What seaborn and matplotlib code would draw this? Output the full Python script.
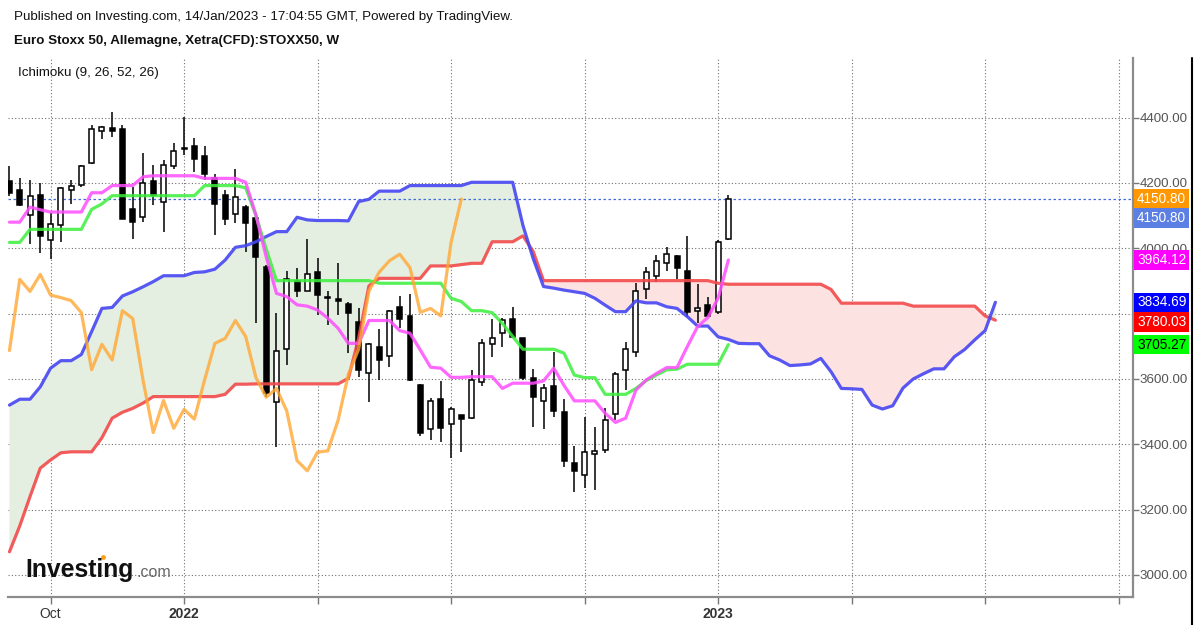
import numpy as np
import pandas as pd
import matplotlib
matplotlib.use('Agg')
import matplotlib.pyplot as plt
import matplotlib.dates as mdates
import matplotlib.transforms as mtransforms
from matplotlib.lines import Line2D
import seaborn as sns

# Euro Stoxx 50 weekly candles, Sep 2021 -> Jan 2023
first_week = '2021-09-06'
opens = [4207, 4177, 4102, 4164, 4026, 4071, 4178, 4193, 4260, 4359,
         4367, 4364, 4120, 4095, 4207, 4141, 4252, 4306, 4314, 4284,
         4214, 4164, 4104, 4127, 4092, 3944, 3529, 3693, 3901, 3869,
         3928, 3852, 3844, 3829, 3773, 3617, 3697, 3670, 3821, 3794,
         3582, 3446, 3538, 3461, 3489, 3480, 3592, 3706, 3740, 3783,
         3724, 3602, 3533, 3580, 3498, 3342, 3306, 3369, 3383, 3492,
         3626, 3682, 3874, 3915, 3954, 3975, 3931, 3808, 3826, 3804,
         4028]
highs = [4253, 4215, 4208, 4200, 4107, 4187, 4209, 4255, 4377, 4375,
         4418, 4377, 4187, 4291, 4254, 4270, 4321, 4401, 4337, 4314,
         4227, 4179, 4243, 4132, 4107, 3950, 3801, 3932, 3939, 4028,
         3969, 3870, 3954, 3837, 3816, 3710, 3752, 3812, 3855, 3859,
         3585, 3541, 3595, 3513, 3491, 3626, 3722, 3784, 3786, 3821,
         3726, 3630, 3585, 3682, 3538, 3396, 3485, 3452, 3510, 3622,
         3714, 3893, 3942, 3980, 4005, 3980, 4038, 3890, 3852, 4025,
         4163]
lows = [4160, 4128, 4013, 3987, 3966, 4020, 4136, 4189, 4258, 4335,
        4340, 4090, 4029, 4082, 4132, 4051, 4243, 4286, 4235, 4209,
        4041, 4071, 4077, 3990, 3770, 3544, 3393, 3643, 3850, 3868,
        3796, 3765, 3796, 3679, 3605, 3529, 3597, 3636, 3757, 3595,
        3426, 3413, 3408, 3359, 3376, 3478, 3577, 3666, 3697, 3728,
        3597, 3452, 3447, 3485, 3332, 3253, 3265, 3260, 3372, 3474,
        3566, 3668, 3845, 3898, 3929, 3905, 3789, 3770, 3792, 3800,
        4025]
closes = [4170, 4133, 4160, 4037, 4073, 4184, 4191, 4253, 4364, 4370,
          4358, 4091, 4079, 4199, 4163, 4256, 4298, 4303, 4274, 4227,
          4136, 4089, 4156, 4076, 3972, 3556, 3687, 3905, 3868, 3920,
          3857, 3849, 3840, 3803, 3628, 3706, 3658, 3809, 3785, 3597,
          3436, 3534, 3449, 3507, 3477, 3597, 3709, 3724, 3779, 3730,
          3604, 3544, 3571, 3502, 3350, 3319, 3376, 3380, 3474, 3614,
          3691, 3869, 3927, 3962, 3982, 3941, 3804, 3816, 3793, 4018,
          4150.80]

# Ichimoku (9, 26, 52, 26)
tenkan = [4080, 4080, 4126, 4118, 4111, 4111, 4111, 4111, 4170, 4170,
          4192, 4192, 4192, 4219, 4222, 4222, 4222, 4222, 4222, 4214,
          4214, 4214, 4214, 4202, 4102, 3974, 3862, 3852, 3827, 3823,
          3811, 3786, 3755, 3709, 3709, 3779, 3779, 3779, 3748, 3740,
          3689, 3636, 3633, 3605, 3605, 3607, 3607, 3607, 3571, 3587,
          3587, 3587, 3594, 3633, 3580, 3533, 3533, 3533, 3495, 3467,
          3480, 3566, 3597, 3617, 3635, 3635, 3699, 3760, 3788, 3847,
          3964.12]
kijun = [4018, 4018, 4058, 4058, 4058, 4058, 4058, 4058, 4119, 4136,
         4161, 4161, 4161, 4161, 4161, 4161, 4161, 4161, 4161, 4192,
         4192, 4192, 4192, 4185, 4100, 3998, 3901, 3901, 3901, 3901,
         3901, 3901, 3901, 3901, 3901, 3901, 3893, 3893, 3893, 3893,
         3893, 3893, 3893, 3847, 3837, 3809, 3809, 3803, 3770, 3730,
         3691, 3691, 3691, 3691, 3679, 3612, 3604, 3604, 3553, 3553,
         3553, 3571, 3595, 3612, 3628, 3630, 3645, 3645, 3645, 3645,
         3705.27]
# cloud lines, already displaced forward
span_blue = [3520, 3538, 3538, 3576, 3633, 3656, 3656, 3675, 3745, 3816,
             3819, 3854, 3867, 3882, 3898, 3916, 3916, 3916, 3926, 3928,
             3936, 3964, 4003, 4008, 4020, 4036, 4051, 4051, 4095, 4087,
             4085, 4085, 4085, 4084, 4143, 4150, 4175, 4175, 4175, 4192,
             4192, 4192, 4192, 4192, 4192, 4202, 4202, 4202, 4202, 4202,
             4070, 3968, 3883, 3878, 3872, 3867, 3862, 3847, 3826, 3806,
             3806, 3839, 3833, 3833, 3821, 3816, 3791, 3762, 3762, 3729,
             3721, 3709, 3708, 3708, 3671, 3658, 3641, 3643, 3646, 3663,
             3622, 3571, 3570, 3568, 3520, 3508, 3518, 3572, 3600, 3616,
             3631, 3631, 3668, 3690, 3720, 3748, 3834.69]
span_red = [3071, 3150, 3240, 3327, 3352, 3374, 3377, 3377, 3377, 3420,
            3480, 3498, 3510, 3526, 3546, 3546, 3546, 3546, 3546, 3546,
            3546, 3553, 3584, 3584, 3585, 3585, 3585, 3585, 3585, 3585,
            3585, 3585, 3585, 3602, 3725, 3885, 3908, 3908, 3908, 3908,
            3908, 3946, 3946, 3946, 3950, 3954, 3954, 4020, 4020, 4020,
            4038, 3990, 3901, 3901, 3901, 3901, 3901, 3901, 3901, 3901,
            3901, 3901, 3901, 3901, 3901, 3901, 3901, 3901, 3901, 3893,
            3890, 3890, 3890, 3890, 3890, 3890, 3890, 3890, 3890, 3890,
            3874, 3832, 3832, 3832, 3832, 3832, 3832, 3832, 3823, 3823,
            3823, 3823, 3823, 3823, 3823, 3793, 3780.03]
lag = 26

tick_dates = ['2021-10-04', '2022-01-03', '2022-04-04', '2022-07-04', '2022-10-03',
              '2023-01-02', '2023-04-03', '2023-07-03', '2023-10-02']
tick_labels = ['Oct', '2022', '', '', '', '2023', '', '', '']
price_ticks = [3000, 3200, 3400, 3600, 3800, 4000, 4200, 4400]

last_values = [4150.80, 4150.80, 3964.12, 3834.69, 3780.03, 3705.27]
last_colors = ['#ff9800', '#5b7fe3', '#ff00ff', '#0000ff', '#ff0000', '#00ff00']
last_text = ['white', 'white', 'white', 'white', 'white', 'black']

sns.set_theme(style='white')
plt.rcParams['font.family'] = ['Liberation Sans', 'DejaVu Sans']

W, H = 1199, 625
fig = plt.figure(figsize=(W / 100, H / 100), dpi=100)
ax = fig.add_axes([8 / W, 28 / H, 1125 / W, 539 / H])

weeks = pd.date_range(first_week, periods=len(closes), freq='7D')
cloud_weeks = pd.date_range(first_week, periods=len(span_blue), freq='7D')
df = pd.DataFrame({'week': weeks, 'open': opens, 'high': highs, 'low': lows,
                   'close': closes, 'tenkan': tenkan, 'kijun': kijun})
cloud = pd.DataFrame({'week': cloud_weeks, 'blue': span_blue, 'red': span_red})
chikou = pd.DataFrame({'week': weeks[:len(closes) - lag], 'close': closes[lag:]})

# cloud
b = cloud['blue'].values
r = cloud['red'].values
ax.fill_between(cloud['week'], b, r, where=b >= r, interpolate=True,
                color='#e4efe1', lw=0, zorder=1)
ax.fill_between(cloud['week'], b, r, where=b < r, interpolate=True,
                color='#fde2e2', lw=0, zorder=1)

# candles
up = df['close'] >= df['open']
ax.vlines(df['week'], df['low'], df['high'], color='black', lw=1.1, zorder=3)
body_bot = np.minimum(df['open'], df['close'])
body_h = np.maximum((df['close'] - df['open']).abs(), 3)
ax.bar(df['week'], body_h, bottom=body_bot, width=3.4,
       color=np.where(up, 'white', 'black'), edgecolor='black', linewidth=1.1, zorder=4)

# ichimoku lines
sns.lineplot(data=cloud, x='week', y='red', ax=ax, color='#f24a4a', lw=2.3, alpha=0.9, zorder=5)
sns.lineplot(data=cloud, x='week', y='blue', ax=ax, color='#4646f2', lw=2.3, alpha=0.9, zorder=5)
sns.lineplot(data=df, x='week', y='kijun', ax=ax, color='#3cef3c', lw=2.3, alpha=0.85, zorder=5)
sns.lineplot(data=df, x='week', y='tenkan', ax=ax, color='#ff4cff', lw=2.3, alpha=0.85, zorder=5)
sns.lineplot(data=chikou, x='week', y='close', ax=ax, color='#ffa733', lw=2.3, alpha=0.8, zorder=5)

ax.axhline(closes[-1], color='#3f6ae0', lw=0.9, ls=(0, (2, 2)), zorder=2)

# axes
base = mdates.date2num(pd.Timestamp(first_week))
ax.set_xlim(base - 1.0, base + 765.8)
ax.set_ylim(2932.6, 4582.5)
ax.set_xlabel('')
ax.set_ylabel('')
ax.set_xticks(pd.to_datetime(tick_dates))
ax.set_xticklabels(tick_labels)
ax.set_yticks(price_ticks)
ax.set_yticklabels([f'{p:.2f}' for p in price_ticks])
ax.yaxis.tick_right()
ax.tick_params(axis='y', which='both', direction='out', length=4, width=1, color='#777777',
               labelcolor='#555555', labelsize=9.6, pad=1, right=True, left=False)
ax.tick_params(axis='x', direction='out', length=5, width=1, color='#777777',
               labelcolor='#333333', labelsize=10, pad=2, bottom=True)
for lbl in ax.get_xticklabels():
    if lbl.get_text() in ('2022', '2023'):
        lbl.set_fontweight('bold')
ax.grid(True, color='#707070', lw=0.8, ls=(0, (1, 2)))
ax.set_axisbelow(True)
for side in ('left', 'top'):
    ax.spines[side].set_visible(False)
for side in ('right', 'bottom'):
    ax.spines[side].set_color('#8c8c8c')
    ax.spines[side].set_linewidth(1.6)
ax.set_facecolor('white')

# last value boxes on the price scale
trans = mtransforms.blended_transform_factory(ax.transAxes, ax.transData)
nudge = [0, -19, 0, 0, -2, 0]
for v, c, tc, dy in zip(last_values, last_colors, last_text, nudge):
    ax.annotate(f'{v:.2f}', xy=(1.0, v), xycoords=trans, xytext=(4, dy),
                textcoords='offset pixels', ha='left', va='center', color=tc,
                fontsize=9.8, annotation_clip=False, zorder=10,
                bbox=dict(boxstyle='square,pad=0.2', fc=c, ec='none'))

fig.add_artist(Line2D([1191.5 / W] * 2, [0, 1 - 58 / H], color='black', lw=1.5))

# header
fig.text(14 / W, 1 - 17 / H, 'Published on Investing.com, 14/Jan/2023 - 17:04:55 GMT, Powered by TradingView.',
         fontsize=9.6, color='#111111', va='center', ha='left')
fig.text(14 / W, 1 - 41 / H, 'Euro Stoxx 50, Allemagne, Xetra(CFD):STOXX50, W',
         fontsize=9.6, fontweight='bold', color='#111111', va='center', ha='left')
fig.text(18 / W, 1 - 73 / H, 'Ichimoku (9, 26, 52, 26)',
         fontsize=9.6, color='#111111', va='center', ha='left')

# watermark
fig.text(25 / W, 1 - 577 / H, 'Investing', fontsize=17.8, fontweight='bold', color='#111111',
         va='baseline', ha='left')
fig.text(136 / W, 1 - 577 / H, '.com', fontsize=11.5, color='#666666', va='baseline', ha='left')
fig.add_artist(Line2D([103 / W], [1 - 557 / H], marker='o', ms=3.5, color='#f7a21b', mew=0))

fig.savefig('out.png', dpi=100, facecolor='white')
